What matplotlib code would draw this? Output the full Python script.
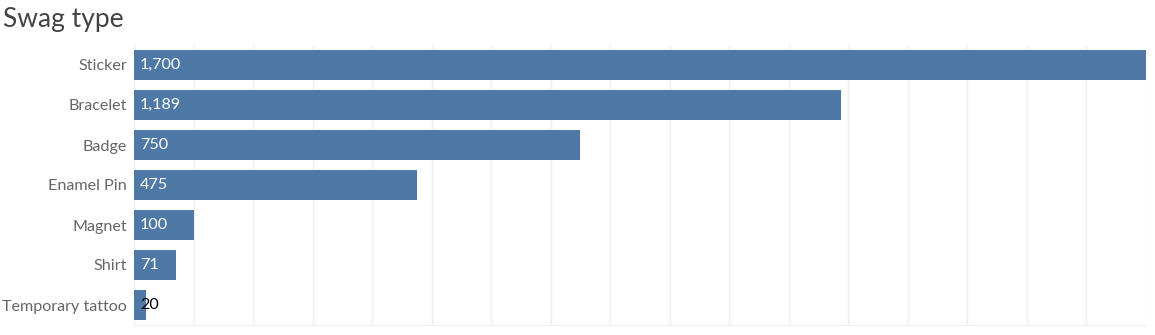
import matplotlib
matplotlib.use("Agg")
import matplotlib.pyplot as plt
import numpy as np

categories = ["Sticker", "Bracelet", "Badge", "Enamel Pin", "Magnet", "Shirt", "Temporary tattoo"]
counts = [1700, 1189, 750, 475, 100, 71, 20]

plt.rcParams['font.family'] = ['Lato', 'DejaVu Sans']

fig = plt.figure(figsize=(11.55, 3.35), dpi=100)
ax = fig.add_axes([134 / 1155, 10 / 335, (1145.5 - 134) / 1155, 280 / 335])

y = np.arange(len(categories))
ax.barh(y, counts, height=0.75, color="#4e79a7", zorder=2)
ax.set_ylim(len(categories) - 0.5, -0.5)
ax.set_xlim(0, 1700)
ax.set_yticks(y)
ax.set_yticklabels(categories, fontsize=11.6, color="#666666")
ax.tick_params(axis="y", length=0, pad=5)
ax.set_xticks(np.arange(0, 1701, 100))
ax.tick_params(axis="x", length=0, labelbottom=False)
ax.grid(axis="x", color="#efefef", linewidth=1, zorder=0)
for s in ["top", "right", "left"]:
    ax.spines[s].set_visible(False)
ax.spines["bottom"].set_color("#efefef")

for i, v in enumerate(counts):
    # tiny bars get a dark label
    col = "white" if v >= 50 else "black"
    ax.text(10, i, f"{v:,}", va="center", ha="left", fontsize=11.6, color=col, zorder=3)

fig.text(3 / 1155, 1 - 20 / 335, "Swag type", fontsize=19, color="#444444",
         va="center", ha="left")

fig.savefig("out.png", dpi=100)
